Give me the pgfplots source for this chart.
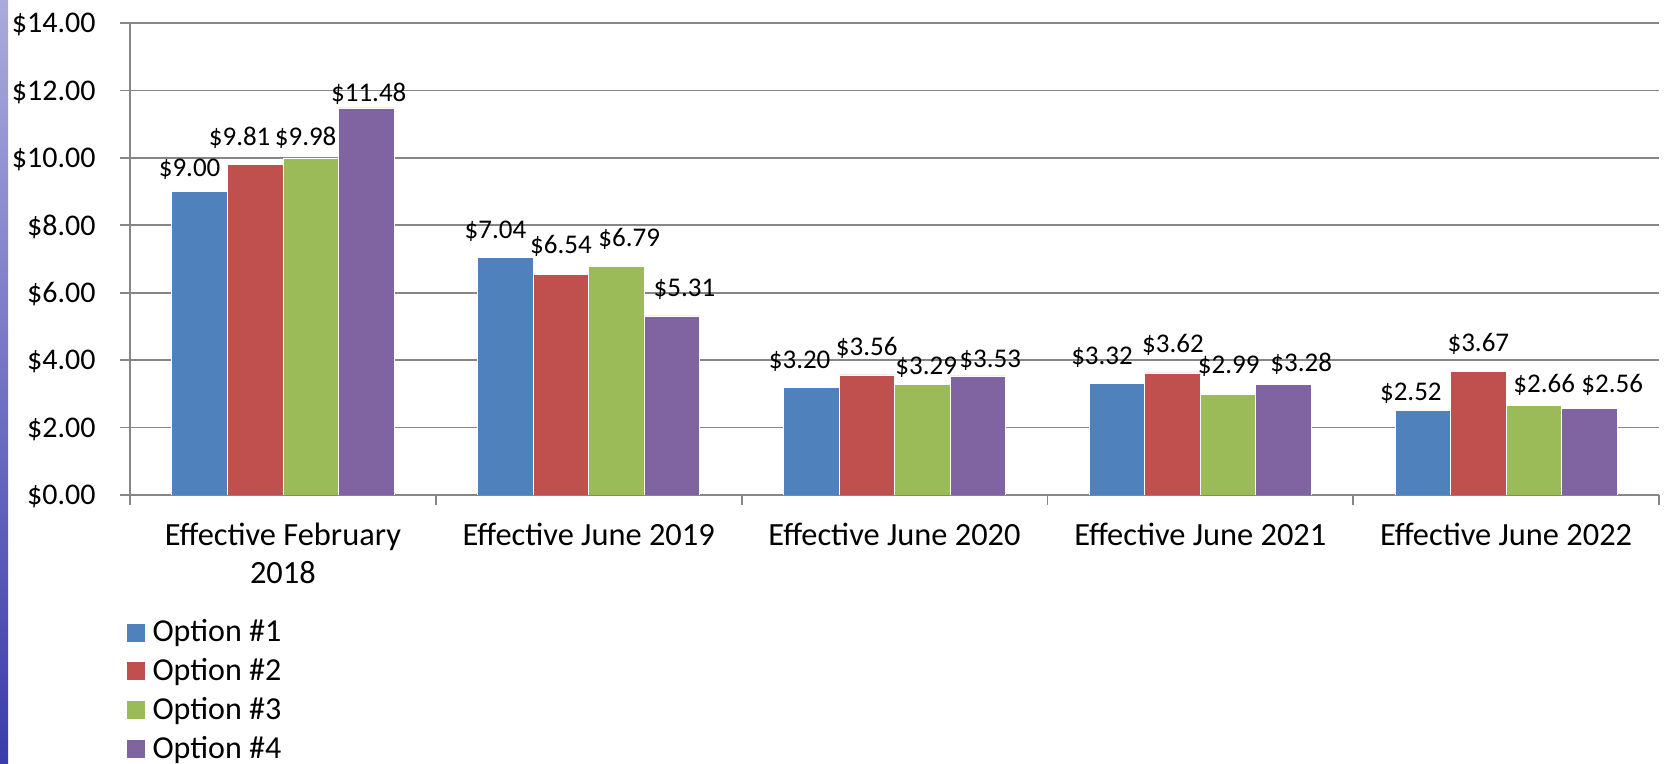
\documentclass[border=0pt]{standalone}
\usepackage{fontspec}
\setmainfont{Carlito}
\usepackage{pgfplots}
\pgfplotsset{compat=1.18}
\usepackage{pgfplotstable}

\definecolor{optA}{HTML}{4F81BD}
\definecolor{optB}{HTML}{C0504D}
\definecolor{optC}{HTML}{9BBB59}
\definecolor{optD}{HTML}{8064A2}
\definecolor{gridgray}{RGB}{134,134,134}
\definecolor{stripTop}{RGB}{170,170,220}
\definecolor{stripBot}{RGB}{60,60,170}

% x = category, y = value, dx/dy = label offsets (pt)
\pgfplotstableread{
x y dx dy
0 9.00 -5 7.5
1 7.04 -5 9.35
2 3.20 -5.8 9.5
3 3.32 -7.5 9.15
4 2.52 -6 5
}\optionA
\pgfplotstableread{
x y dx dy
0 9.81 -7.75 9.5
1 6.54 0 10.5
2 3.56 0 9.65
3 3.62 0.2 10
4 3.67 0 10
}\optionB
\pgfplotstableread{
x y dx dy
0 9.98 -2.5 6.35
1 6.79 6.4 9.65
2 3.29 2 4.65
3 2.99 0.35 10.15
4 2.66 5.15 6.65
}\optionC
\pgfplotstableread{
x y dx dy
0 11.48 1.3 3
1 5.31 6.25 9.8
2 3.53 6.25 4.15
3 3.28 8.8 6.5
4 2.56 11.4 8.15
}\optionD

\begin{document}
\begin{tikzpicture}
\path[use as bounding box] (0,0) rectangle (832.5pt,382pt);
\shade[top color=stripTop, bottom color=stripBot] (0,0) rectangle (4pt,382pt);
\begin{axis}[
  at={(65pt,134.5pt)}, anchor=south west,
  scale only axis, width=764.5pt, height=236pt,
  ybar=0pt, bar width=27.75pt,
  xmin=-0.5, xmax=4.5, ymin=0, ymax=14,
  axis x line*=bottom, axis y line*=left,
  axis line style={gridgray, line width=0.9pt},
  tick style={gridgray, line width=0.9pt},
  tick align=outside, major tick length=5pt,
  ytick={0,2,4,6,8,10,12,14},
  yticklabels={\$0.00,\$2.00,\$4.00,\$6.00,\$8.00,\$10.00,\$12.00,\$14.00},
  yticklabel style={font=\fontsize{15}{18}\selectfont, xshift=-8.7pt, yshift=-0.8pt},
  ymajorgrids, major grid style={gridgray, line width=0.9pt},
  xtick={-0.5,0.5,1.5,2.5,3.5,4.5}, xticklabels={},
  extra x ticks={0,1,2,3,4},
  extra x tick labels={Effective February\\2018, Effective June 2019, Effective June 2020, Effective June 2021, Effective June 2022},
  extra x tick style={major tick length=0pt, xticklabel style={align=center, anchor=north, font=\fontsize{16.2}{19}\selectfont, yshift=-10.5pt}},
  /pgf/number format/assume math mode=true,
  point meta=y,
  visualization depends on={\thisrow{dx}\as\dx},
  visualization depends on={\thisrow{dy}\as\dy},
  nodes near coords={\$\pgfmathprintnumber[fixed,fixed zerofill,precision=2]{\pgfplotspointmeta}},
  nodes near coords style={anchor=base, xshift=\dx pt, yshift=\dy pt, font=\fontsize{13.5}{16}\selectfont, text=black, inner sep=0pt},
  legend style={draw=none, fill=none, at={(axis description cs:-0.002,-0.264)}, anchor=north west,
    inner sep=0pt, outer sep=0pt, font=\fontsize{16}{18}\selectfont, row sep=5.4pt,
    nodes={text height=11pt, text depth=3pt, inner sep=0pt},
    /tikz/every odd column/.append style={column sep=3.8pt}},
  legend cell align=left,
  legend image code/.code={\fill[#1, draw=none] (0pt,-4pt) rectangle (9pt,5pt);},
]
\addplot[fill=optA, draw=white, line width=0.4pt] table[x=x, y=y] {\optionA};
\addplot[fill=optB, draw=white, line width=0.4pt] table[x=x, y=y] {\optionB};
\addplot[fill=optC, draw=white, line width=0.4pt] table[x=x, y=y] {\optionC};
\addplot[fill=optD, draw=white, line width=0.4pt] table[x=x, y=y] {\optionD};
\legend{Option \#1, Option \#2, Option \#3, Option \#4}
\end{axis}
\end{tikzpicture}
\end{document}
